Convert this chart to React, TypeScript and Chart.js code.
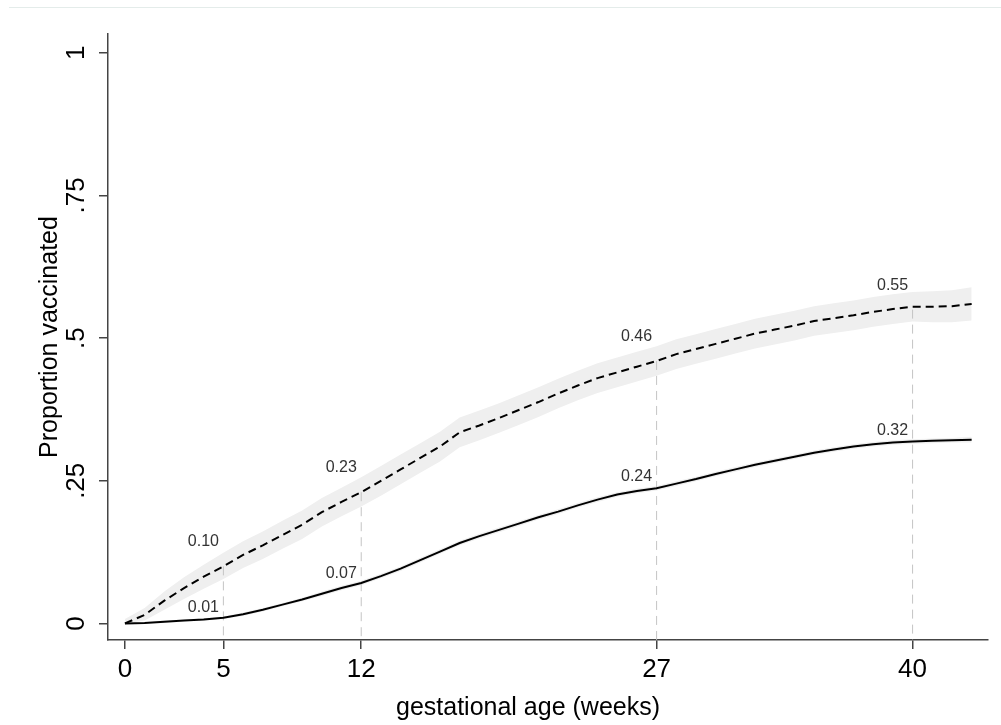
import React, { useEffect, useRef } from "react";
import { Chart, registerables } from "chart.js";

Chart.register(...registerables);

// ---- data ----
const weeks = [
  0, 1, 2, 3, 4, 5, 6, 7, 8, 9, 10, 11, 12, 13, 14, 15, 16, 17, 18, 19, 20, 21,
  22, 23, 24, 25, 26, 27, 28, 29, 30, 31, 32, 33, 34, 35, 36, 37, 38, 39, 40,
  41, 42, 43,
];

// dashed curve (upper group) with confidence band
const dashedCurve = [
  0, 0.015, 0.04, 0.062, 0.082, 0.1, 0.12, 0.137, 0.155, 0.173, 0.195, 0.213,
  0.23, 0.25, 0.27, 0.29, 0.31, 0.335, 0.347, 0.36, 0.374, 0.388, 0.403, 0.417,
  0.43, 0.44, 0.45, 0.46, 0.472, 0.481, 0.49, 0.499, 0.508, 0.515, 0.522, 0.53,
  0.535, 0.54, 0.546, 0.551, 0.555, 0.555, 0.556, 0.56,
];
const dashedLower = [
  0, 0.005, 0.024, 0.043, 0.061, 0.078, 0.097, 0.113, 0.131, 0.148, 0.17,
  0.188, 0.205, 0.224, 0.244, 0.264, 0.284, 0.309, 0.321, 0.334, 0.348, 0.362,
  0.377, 0.391, 0.404, 0.414, 0.424, 0.434, 0.446, 0.455, 0.464, 0.473, 0.482,
  0.489, 0.496, 0.504, 0.509, 0.514, 0.52, 0.525, 0.529, 0.528, 0.528, 0.531,
];
const dashedUpper = [
  0.008, 0.027, 0.056, 0.081, 0.103, 0.124, 0.144, 0.161, 0.18, 0.198, 0.22,
  0.238, 0.256, 0.276, 0.296, 0.316, 0.336, 0.361, 0.373, 0.386, 0.4, 0.414,
  0.429, 0.443, 0.456, 0.466, 0.476, 0.486, 0.498, 0.507, 0.516, 0.525, 0.534,
  0.541, 0.548, 0.556, 0.561, 0.566, 0.572, 0.577, 0.581, 0.582, 0.584, 0.589,
];

// solid curve (lower group) with confidence band
const solidCurve = [
  0, 0.001, 0.003, 0.005, 0.007, 0.01, 0.016, 0.024, 0.033, 0.042, 0.052,
  0.062, 0.071, 0.083, 0.096, 0.111, 0.126, 0.141, 0.153, 0.164, 0.175, 0.186,
  0.196, 0.207, 0.217, 0.226, 0.232, 0.237, 0.245, 0.253, 0.262, 0.27, 0.278,
  0.285, 0.292, 0.299, 0.305, 0.31, 0.314, 0.317, 0.319, 0.32, 0.321, 0.322,
];
const solidLower = [
  0, 0, 0.001, 0.003, 0.005, 0.008, 0.013, 0.021, 0.03, 0.039, 0.048, 0.058,
  0.067, 0.079, 0.092, 0.107, 0.122, 0.137, 0.149, 0.16, 0.171, 0.182, 0.192,
  0.203, 0.213, 0.222, 0.228, 0.233, 0.241, 0.249, 0.258, 0.266, 0.274, 0.281,
  0.288, 0.295, 0.301, 0.306, 0.31, 0.313, 0.315, 0.316, 0.317, 0.317,
];
const solidUpper = [
  0.001, 0.002, 0.005, 0.007, 0.009, 0.012, 0.019, 0.027, 0.036, 0.045, 0.056,
  0.066, 0.075, 0.087, 0.1, 0.115, 0.13, 0.145, 0.157, 0.168, 0.179, 0.19, 0.2,
  0.211, 0.221, 0.23, 0.236, 0.241, 0.249, 0.257, 0.266, 0.274, 0.282, 0.289,
  0.296, 0.303, 0.309, 0.314, 0.318, 0.321, 0.323, 0.324, 0.325, 0.327,
];

// marked weeks and their labelled values
const markWeeks = [5, 12, 27, 40];
const dashedMarks = [0.1, 0.23, 0.46, 0.55];
const solidMarks = [0.01, 0.07, 0.24, 0.32];
const dashedMarkLabels = ["0.10", "0.23", "0.46", "0.55"];
const solidMarkLabels = ["0.01", "0.07", "0.24", "0.32"];

// axes
const xTicks = [0, 5, 12, 27, 40];
const xTickLabels = ["0", "5", "12", "27", "40"];
const yTicks = [0, 0.25, 0.5, 0.75, 1];
const yTickLabels = ["0", ".25", ".5", ".75", "1"];
const xTitle = "gestational age (weeks)";
const yTitle = "Proportion vaccinated";
const X_MIN = -0.86;
const X_MAX = 43.83;
const Y_MIN = -0.029;
const Y_MAX = 1.033;

const FONT = "'Liberation Sans', Arial, Helvetica, sans-serif";
const X_TITLE_SHIFT = 20;

const pts = (ys: number[]) => weeks.map((w, i) => ({ x: w, y: ys[i] }));

const markLabelPlugin = {
  id: "markLabels",
  afterDatasetsDraw(chart: any) {
    const { ctx } = chart;
    const xs = chart.scales.x;
    const ys = chart.scales.y;
    ctx.save();
    ctx.font = `16px ${FONT}`;
    ctx.fillStyle = "#333333";
    ctx.textAlign = "center";
    ctx.textBaseline = "alphabetic";
    markWeeks.forEach((w, i) => {
      const px = xs.getPixelForValue(w);
      ctx.fillText(dashedMarkLabels[i], px - 20, ys.getPixelForValue(dashedMarks[i]) - 20);
      ctx.fillText(solidMarkLabels[i], px - 20, ys.getPixelForValue(solidMarks[i]) - 6);
    });
    ctx.restore();
  },
};

export default function App() {
  const canvasRef = useRef<HTMLCanvasElement | null>(null);

  useEffect(() => {
    const canvas = canvasRef.current;
    if (!canvas) return;
    Chart.defaults.font.family = FONT;

    const refLines = markWeeks.map((w, i) => ({
      data: [
        { x: w, y: dashedMarks[i] },
        { x: w, y: Y_MIN },
      ],
      borderColor: "#c4c4c4",
      borderWidth: 1,
      borderDash: [9, 6],
      pointRadius: 0,
      fill: false,
      order: 1,
    }));

    const chart = new Chart(canvas, {
      type: "line",
      data: {
        datasets: [
          {
            data: pts(dashedCurve),
            borderColor: "#000000",
            borderWidth: 2,
            borderDash: [8, 5],
            pointRadius: 0,
            fill: false,
            order: 0,
          },
          {
            data: pts(solidCurve),
            borderColor: "#000000",
            borderWidth: 2,
            pointRadius: 0,
            fill: false,
            order: 0,
          },
          ...refLines,
          {
            data: pts(dashedLower),
            borderWidth: 0,
            borderColor: "rgba(0,0,0,0)",
            pointRadius: 0,
            fill: false,
            order: 3,
          },
          {
            data: pts(dashedUpper),
            borderWidth: 0,
            borderColor: "rgba(0,0,0,0)",
            backgroundColor: "#efefef",
            pointRadius: 0,
            fill: "-1",
            order: 2,
          },
          {
            data: pts(solidLower),
            borderWidth: 0,
            borderColor: "rgba(0,0,0,0)",
            pointRadius: 0,
            fill: false,
            order: 3,
          },
          {
            data: pts(solidUpper),
            borderWidth: 0,
            borderColor: "rgba(0,0,0,0)",
            backgroundColor: "#efefef",
            pointRadius: 0,
            fill: "-1",
            order: 2,
          },
        ] as any,
      },
      options: {
        animation: false,
        responsive: false,
        maintainAspectRatio: false,
        layout: { padding: { left: 0, top: 34, right: 13, bottom: 0 } },
        elements: { line: { tension: 0 }, point: { radius: 0 } },
        plugins: {
          legend: { display: false },
          tooltip: { enabled: false },
          title: { display: false },
        },
        scales: {
          x: {
            type: "linear",
            min: X_MIN,
            max: X_MAX,
            afterBuildTicks: (s: any) => {
              s.ticks = xTicks.map((v) => ({ value: v }));
            },
            afterFit: (s: any) => {
              s.height = 85;
            },
            afterUpdate: (s: any) => {
              const base = Object.getPrototypeOf(s).drawTitle;
              s.drawTitle = function () {
                this.left -= X_TITLE_SHIFT;
                this.right -= X_TITLE_SHIFT;
                base.call(this);
                this.left += X_TITLE_SHIFT;
                this.right += X_TITLE_SHIFT;
              };
            },
            grid: {
              display: true,
              drawOnChartArea: false,
              drawTicks: true,
              tickLength: 9,
              color: "#444444",
              lineWidth: 1.5,
            },
            border: { display: true, color: "#444444", width: 1.5 },
            ticks: {
              autoSkip: false,
              maxRotation: 0,
              minRotation: 0,
              padding: 5,
              color: "#000000",
              font: { size: 26, family: FONT },
              callback: (v: any) => xTickLabels[xTicks.indexOf(Number(v))] ?? "",
            },
            title: {
              display: true,
              text: xTitle,
              color: "#000000",
              font: { size: 25, family: FONT },
              padding: { top: 0, bottom: 2 },
            },
          },
          y: {
            type: "linear",
            min: Y_MIN,
            max: Y_MAX,
            afterBuildTicks: (s: any) => {
              s.ticks = yTicks.map((v) => ({ value: v }));
            },
            afterFit: (s: any) => {
              s.width = 108;
            },
            grid: {
              display: true,
              drawOnChartArea: false,
              drawTicks: true,
              tickLength: 9,
              color: "#444444",
              lineWidth: 1.5,
            },
            border: { display: true, color: "#444444", width: 1.5 },
            ticks: {
              autoSkip: false,
              minRotation: 90,
              maxRotation: 90,
              crossAlign: "center",
              padding: 4,
              color: "#000000",
              font: { size: 26, family: FONT },
              callback: (v: any) => yTickLabels[yTicks.indexOf(Number(v))] ?? "",
            },
            title: {
              display: true,
              text: yTitle,
              color: "#000000",
              font: { size: 25, family: FONT },
              padding: { top: 35, bottom: 0 },
            },
          },
        },
      } as any,
      plugins: [markLabelPlugin],
    });

    return () => chart.destroy();
  }, []);

  return (
    <div
      style={{
        position: "absolute",
        left: 0,
        top: 0,
        width: 1001,
        height: 725,
        background: "#ffffff",
        overflow: "hidden",
      }}
    >
      <div
        style={{
          position: "absolute",
          left: 9,
          right: 0,
          top: 7,
          height: 1,
          background: "#e4ecea",
        }}
      />
      <canvas
        ref={canvasRef}
        width={1001}
        height={725}
        style={{ position: "absolute", left: 0, top: 0, width: 1001, height: 725 }}
      />
    </div>
  );
}
